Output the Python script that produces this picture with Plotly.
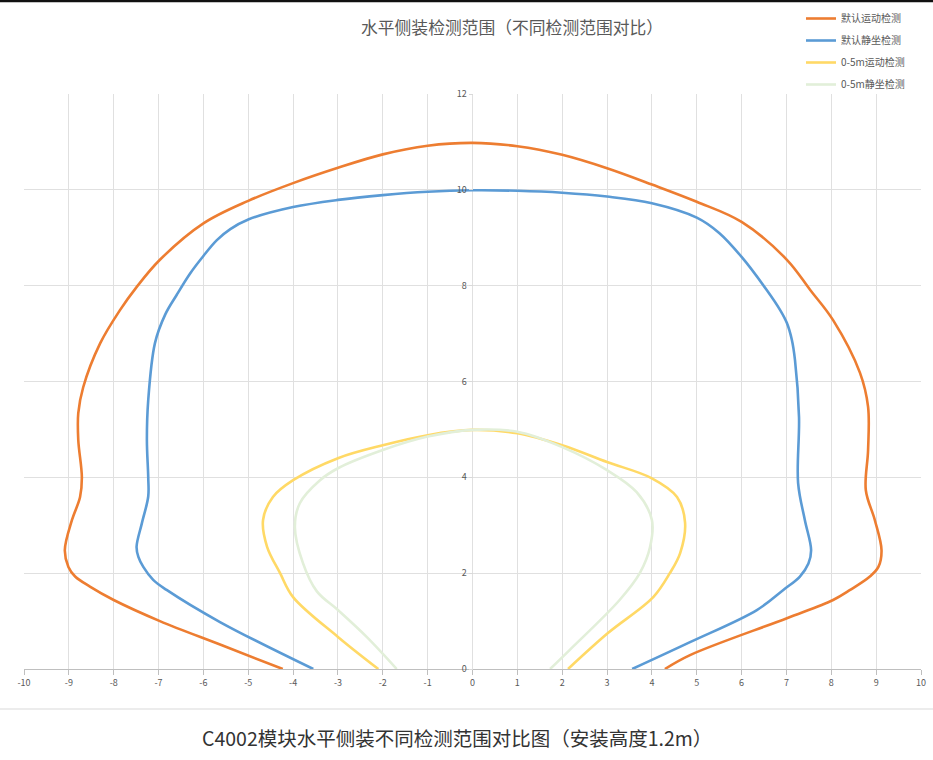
import plotly.graph_objects as go

# ---- data ----
names = ["默认运动检测", "默认静坐检测", "0-5m运动检测", "0-5m静坐检测"]
colors = ["#ED7D31", "#5B9BD5", "#FFD966", "#E2EFD9"]

motion_default_x = [-4.23, -5.6, -6.97, -8.0, -8.53, -8.86, -9.01, -9.09, -8.93, -8.75, -8.71,
                    -8.79, -8.79, -8.68, -8.3, -7.86, -7.49, -6.97, -6.0, -5.0, -4.0, -3.0, -2.0,
                    -1.0, 0.0, 1.0, 2.0, 3.0, 4.0, 5.0, 6.0, 7.01, 7.53, 8.04, 8.64, 8.82, 8.82,
                    8.77, 8.97, 9.12, 9.05, 8.86, 8.42, 8.04, 7.01, 4.85, 4.29]
motion_default_y = [0.0, 0.5, 1.0, 1.44, 1.72, 1.93, 2.13, 2.48, 3.11, 3.59, 4.0,
                    4.78, 5.34, 5.88, 6.8, 7.49, 7.97, 8.54, 9.3, 9.77, 10.14, 10.46, 10.74,
                    10.92, 10.98, 10.91, 10.73, 10.45, 10.11, 9.75, 9.33, 8.54, 7.91, 7.28, 6.18, 5.47, 4.57,
                    3.73, 3.11, 2.48, 2.13, 1.93, 1.65, 1.44, 1.06, 0.29, 0.0]

sit_default_x = [-3.55, -5.63, -6.82, -7.12, -7.34, -7.45, -7.49, -7.37, -7.23, -7.23, -7.26,
                 -7.23, -7.08, -6.85, -6.6, -6.3, -6.0, -5.7, -5.4, -5.0, -4.0, -3.0, -2.0, -1.0, 0.0,
                 1.0, 2.0, 3.0, 4.0, 5.0, 5.5, 6.0, 6.56, 6.86, 7.01, 7.12, 7.19, 7.28, 7.26, 7.41,
                 7.55, 7.49, 7.3, 6.93, 6.34, 4.85, 3.56]
sit_default_y = [0.0, 0.98, 1.65, 1.86, 2.13, 2.34, 2.55, 3.05, 3.6, 4.0, 4.78,
                 5.61, 6.8, 7.4, 7.8, 8.25, 8.62, 8.95, 9.18, 9.38, 9.64, 9.79, 9.89, 9.96, 9.99,
                 9.98, 9.94, 9.86, 9.72, 9.42, 9.1, 8.6, 7.91, 7.49, 7.22, 6.87, 6.45, 5.26, 3.88, 3.11,
                 2.48, 2.2, 1.93, 1.65, 1.23, 0.56, 0.0]

motion_5m_x = [-2.1, -3.0, -4.0, -4.29, -4.58, -4.67, -4.45, -4.0, -3.0, -2.0, -1.0, 0.0,
               1.0, 2.0, 3.0, 4.0, 4.56, 4.74, 4.63, 4.4, 4.03, 3.02, 2.13]
motion_5m_y = [0.0, 0.67, 1.5, 2.0, 2.55, 3.11, 3.59, 3.94, 4.4, 4.67, 4.88, 4.99,
               4.92, 4.67, 4.32, 3.98, 3.59, 3.05, 2.42, 2.0, 1.5, 0.75, 0.0]

sit_5m_x = [-1.69, -2.36, -3.0, -3.47, -3.78, -3.96, -3.85, -3.4, -3.0, -2.0, -1.0, 0.0,
            1.0, 2.0, 3.0, 3.66, 4.0, 3.96, 3.73, 3.28, 2.17, 1.73]
sit_5m_y = [0.0, 0.67, 1.23, 1.62, 2.21, 2.96, 3.46, 3.94, 4.19, 4.57, 4.85, 4.99,
            4.95, 4.63, 4.15, 3.69, 3.11, 2.55, 2.0, 1.44, 0.4, 0.0]

x_ticks = list(range(-10, 11))
y_ticks = list(range(0, 13, 2))

title_text = "水平侧装检测范围（不同检测范围对比）"
caption_text = "C4002模块水平侧装不同检测范围对比图（安装高度1.2m）"

series = [(motion_default_x, motion_default_y), (sit_default_x, sit_default_y),
          (motion_5m_x, motion_5m_y), (sit_5m_x, sit_5m_y)]

FONT = "Noto Sans CJK SC"
W, H = 933, 760
L, R, T, B = 24, 12, 94, 91
pw, ph = W - L - R, H - T - B

def px_x(p):
    return (p - L) / pw

def px_y(p):
    return (H - B - p) / ph

fig = go.Figure()
for i, ((xs, ys), nm, c) in enumerate(zip(series, names, colors)):
    fig.add_trace(go.Scatter(
        x=xs, y=ys, mode="lines", name=nm, legendgroup=f"g{i}",
        line=dict(color=c, width=2.6, shape="spline", smoothing=1.0),
        hoverinfo="skip",
    ))

fig.update_layout(
    width=W, height=H,
    margin=dict(l=L, r=R, t=T, b=B, pad=0, autoexpand=False),
    paper_bgcolor="white", plot_bgcolor="white",
    font=dict(family=FONT, color="#595959"),
    showlegend=True,
    legend=dict(
        x=px_x(801), y=px_y(4), xanchor="left", yanchor="top",
        font=dict(family=FONT, size=10, color="#595959"),
        itemwidth=30, tracegroupgap=3, bgcolor="rgba(0,0,0,0)",
    ),
    xaxis=dict(
        range=[-10, 10], tickvals=x_ticks, ticktext=[str(v) for v in x_ticks],
        showgrid=True, gridcolor="#E0E0E0", gridwidth=1,
        zeroline=False, showline=True, linecolor="#BFBFBF", linewidth=1,
        ticks="outside", ticklen=5, tickcolor="#BFBFBF",
        tickfont=dict(family=FONT, size=9, color="#595959"),
        fixedrange=True,
    ),
    yaxis=dict(
        range=[0, 12], tickvals=y_ticks, ticktext=[str(v) for v in y_ticks],
        showgrid=True, gridcolor="#E0E0E0", gridwidth=1,
        zeroline=False, showline=False,
        anchor="free", position=0.5,
        ticks="outside", ticklen=4, tickcolor="#D9D9D9",
        tickfont=dict(family=FONT, size=9, color="#595959"),
        fixedrange=True,
    ),
    annotations=[
        dict(text=title_text, x=px_x(512), y=px_y(27), xref="paper", yref="paper",
             showarrow=False, xanchor="center", yanchor="middle",
             font=dict(family=FONT, size=16.8, color="#595959")),
        dict(text=caption_text, x=px_x(457), y=px_y(737), xref="paper", yref="paper",
             showarrow=False, xanchor="center", yanchor="middle",
             font=dict(family=FONT, size=19.5, color="#333333")),
    ],
    shapes=[
        dict(type="line", xref="paper", yref="paper",
             x0=px_x(0), x1=px_x(W), y0=px_y(1), y1=px_y(1),
             line=dict(color="#111111", width=2.5)),
        dict(type="line", xref="paper", yref="paper",
             x0=px_x(0), x1=px_x(W), y0=px_y(709), y1=px_y(709),
             line=dict(color="#D9D9D9", width=1)),
    ],
)

fig.write_html(
    "out.html",
    config={"displayModeBar": False, "staticPlot": True},
    post_script="document.body.style.margin='0';document.body.style.overflow='hidden';"
                "document.documentElement.style.overflow='hidden';",
)
